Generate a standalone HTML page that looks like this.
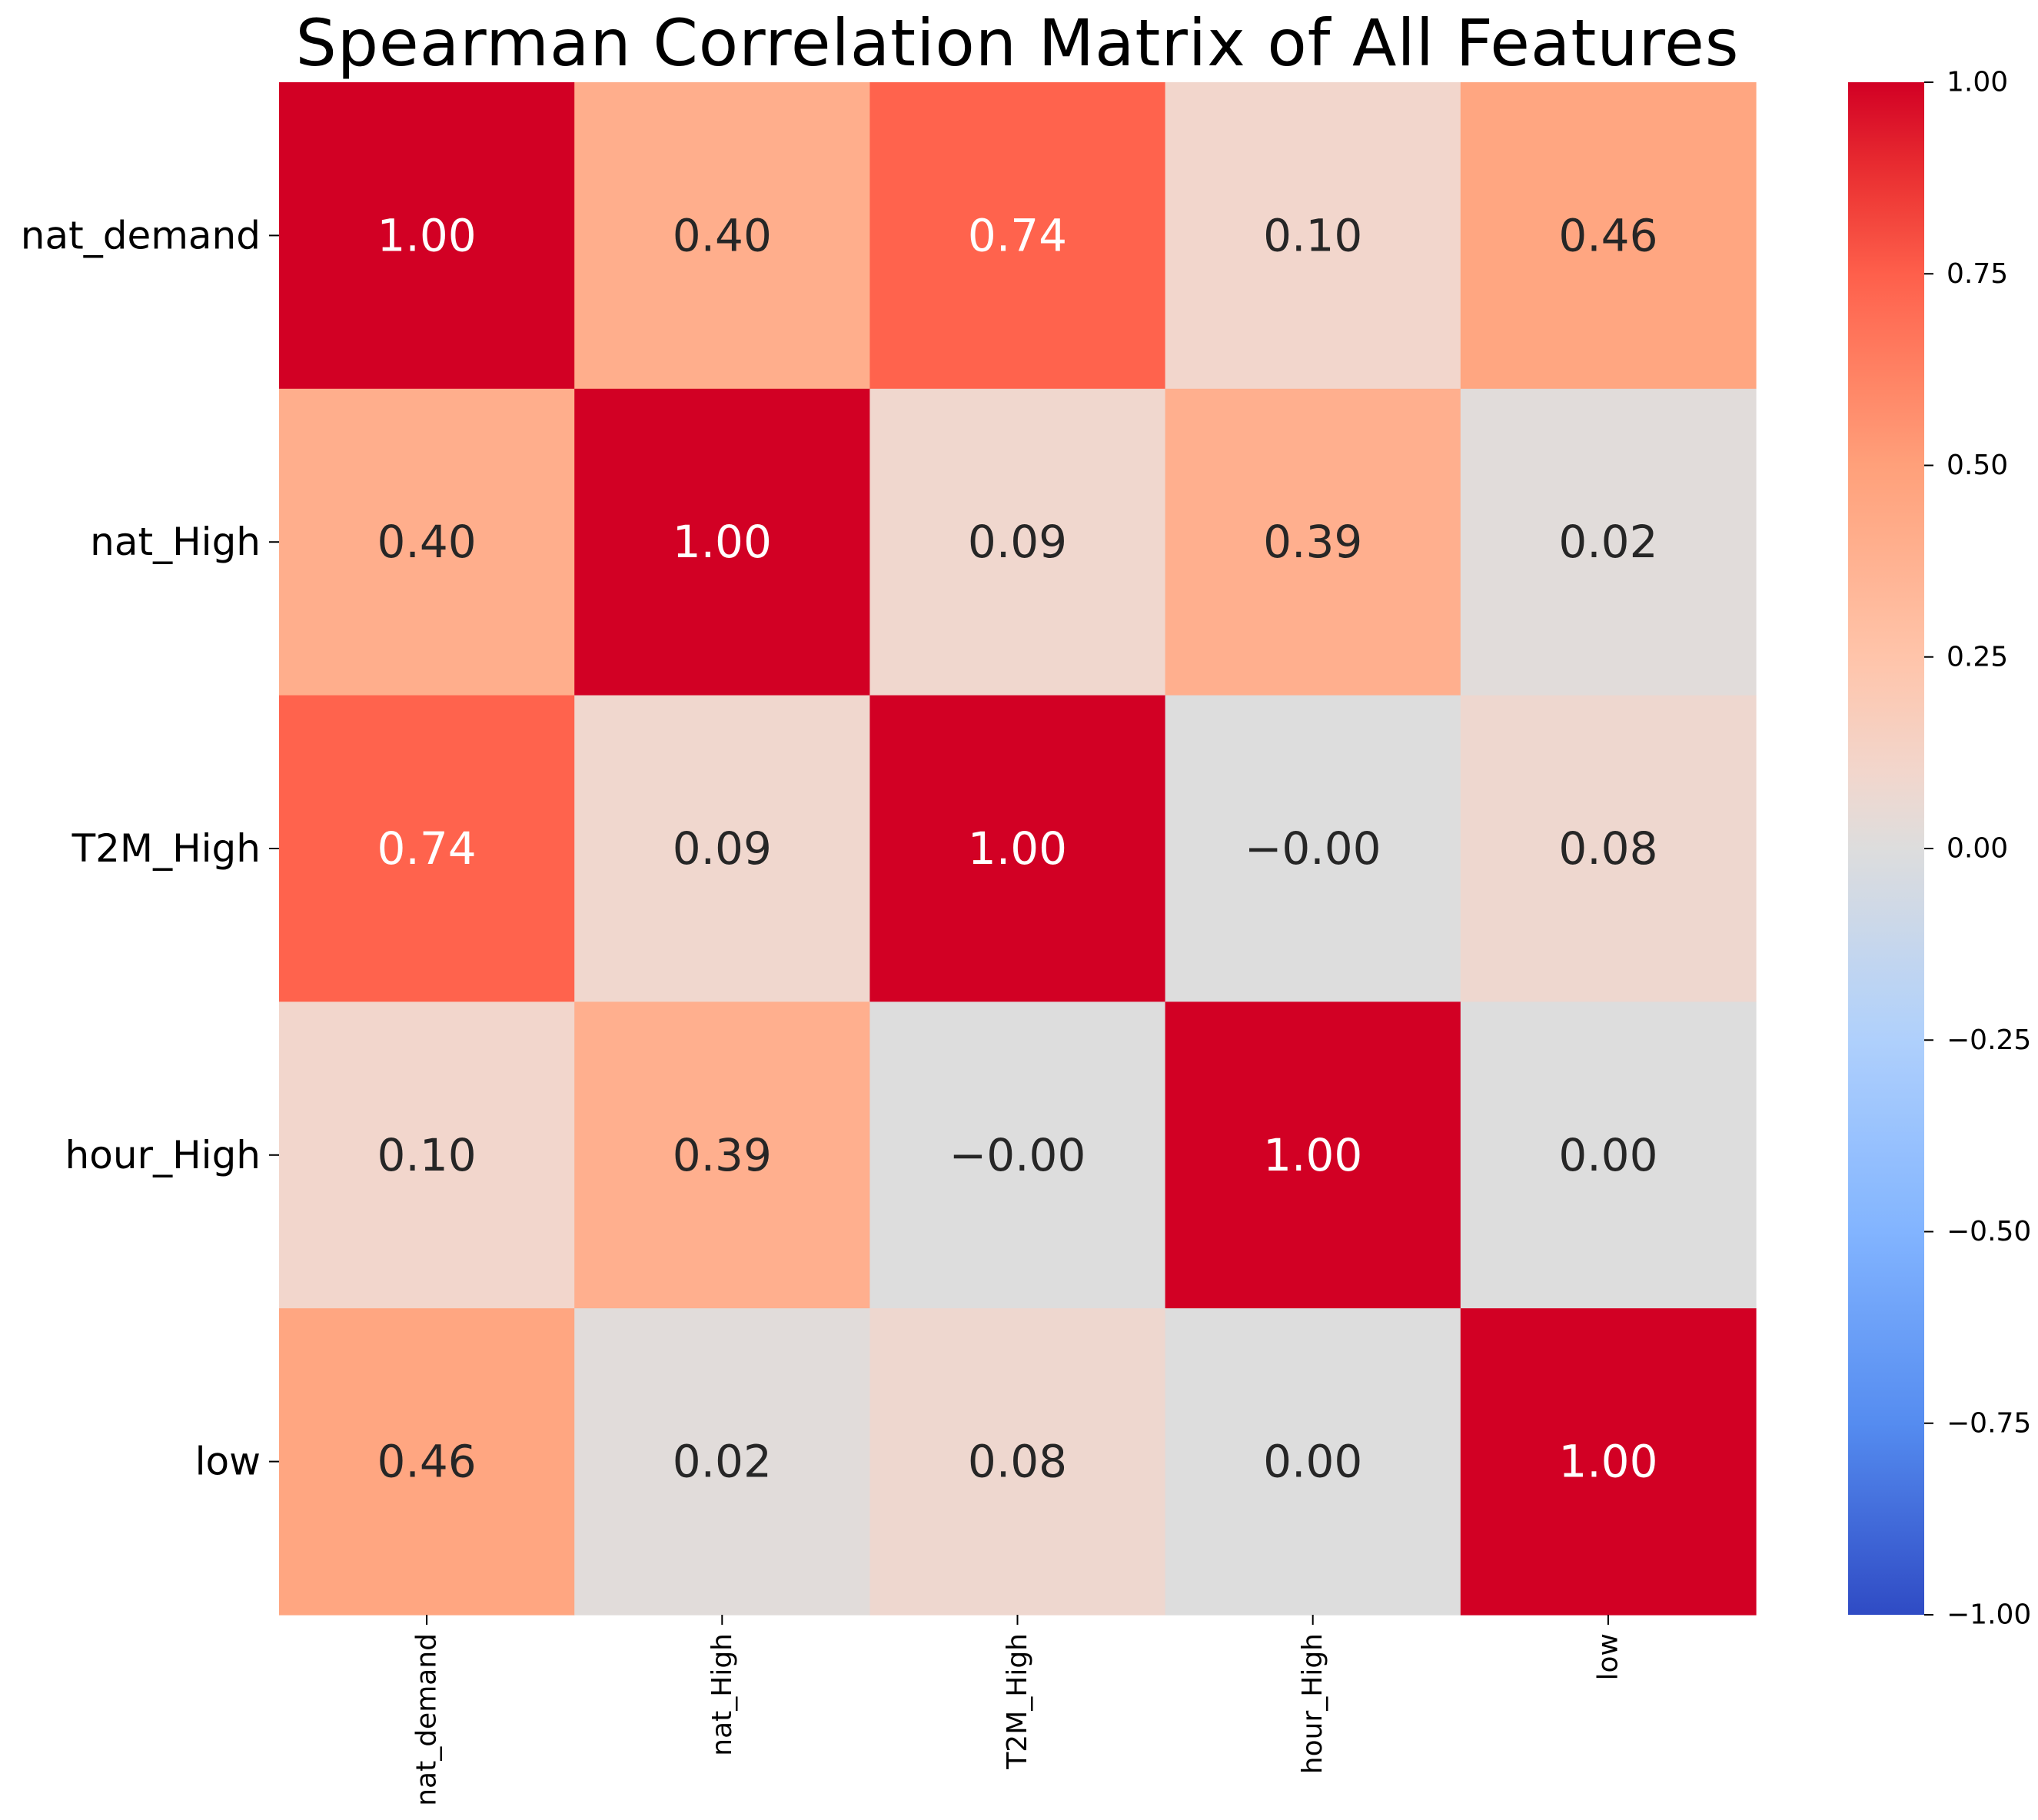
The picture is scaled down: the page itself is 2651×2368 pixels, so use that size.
<!DOCTYPE html>
<html><head><meta charset="utf-8"><style>
html,body{margin:0;padding:0;background:#fff}
svg{display:block;font-family:"DejaVu Sans","Liberation Sans",sans-serif}
</style></head><body>
<svg id="chart" width="2651" height="2368" viewBox="0 0 2651 2368" xmlns="http://www.w3.org/2000/svg">
<rect width="2651" height="2368" fill="#fff"/>
<text x="1323" y="85" font-size="84" text-anchor="middle" textLength="1877" fill="#000">Spearman Correlation Matrix of All Features</text>
<defs><linearGradient id="cbg" x1="0" y1="1" x2="0" y2="0"></linearGradient></defs>
<g id="cells"></g><g id="ylab"></g><g id="xlab"></g><g id="cbar"></g>
</svg>
<script>
const features = ["nat_demand","nat_High","T2M_High","hour_High","low"];
const row0 = [1.00, 0.40, 0.74, 0.10, 0.46];
const row1 = [0.40, 1.00, 0.09, 0.39, 0.02];
const row2 = [0.74, 0.09, 1.00, -0.001, 0.08];
const row3 = [0.10, 0.39, -0.001, 1.00, 0.00];
const row4 = [0.46, 0.02, 0.08, 0.00, 1.00];
const matrix = [row0,row1,row2,row3,row4];
const cbTicks = [1.00,0.75,0.50,0.25,0.00,-0.25,-0.50,-0.75,-1.00];

const NS="http://www.w3.org/2000/svg";
const L=363,R=2284,T=107,B=2101;
const n=features.length, cw=(R-L)/n, ch=(B-T)/n;
const stops=[[-1,[47,75,196]],[-0.75,[85,140,240]],[-0.5,[130,180,255]],[-0.25,[175,208,252]],[0,[221,221,221]],[0.1,[242,214,204]],[0.25,[255,196,170]],[0.4,[255,174,140]],[0.5,[255,160,122]],[0.74,[255,99,77]],[0.875,[235,50,50]],[1,[210,0,36]]];
function cmap(v){
  v=Math.max(-1,Math.min(1,v));
  for(let i=0;i<stops.length-1;i++){
    const [a,ca]=stops[i],[b,cb]=stops[i+1];
    if(v>=a&&v<=b){const t=(v-a)/(b-a);return "rgb("+ca.map((c,k)=>Math.round(c+(cb[k]-c)*t)).join(",")+")";}
  }
  return "rgb(210,0,36)";
}
function el(tag,attrs,parent){const e=document.createElementNS(NS,tag);for(const k in attrs)e.setAttribute(k,attrs[k]);parent.appendChild(e);return e;}
function fmt(v){const s=Math.abs(v).toFixed(2);return (v<0?"\u2212":"")+s;}
const cells=document.getElementById("cells");
matrix.forEach((row,i)=>row.forEach((v,j)=>{
  const r=el("rect",{x:L+j*cw,y:T+i*ch,width:cw+0.6,height:ch+0.6,fill:cmap(v)},cells);
  
  
  const t=el("text",{x:L+(j+0.5)*cw,y:T+(i+0.5)*ch,"font-size":"58","text-anchor":"middle","dominant-baseline":"central",fill:v>0.6?"#fff":"#262626"},cells);
  t.textContent=fmt(v);
  
  
}));
const yl=document.getElementById("ylab"), xl=document.getElementById("xlab");
features.forEach((f,i)=>{
  const y=T+(i+0.5)*ch;
  el("line",{x1:L-13,x2:L,y1:y,y2:y,stroke:"#000","stroke-width":"2"},yl);
  const t=el("text",{x:L-24,y:y,"font-size":"50","text-anchor":"end","dominant-baseline":"central",fill:"#000"},yl);
  t.textContent=f;
  
  
  const x=L+(i+0.5)*cw;
  el("line",{x1:x,x2:x,y1:B,y2:B+13,stroke:"#000","stroke-width":"2"},xl);
  const tx=el("text",{x:0,y:0,"font-size":"36","text-anchor":"end","dominant-baseline":"central",fill:"#000",transform:`translate(${x},${B+24}) rotate(-90)`},xl);
  tx.textContent=f;
  
  
});
const g=document.getElementById("cbg");
for(let k=0;k<=40;k++){const v=-1+k/20;el("stop",{offset:(k/40),"stop-color":cmap(v)},g);}
const cb=document.getElementById("cbar");
const CL=2404,CR=2503;
const cr=el("rect",{x:CL,y:T,width:CR-CL,height:B-T,fill:"url(#cbg)"},cb);


cbTicks.forEach(v=>{
  const y=T+(1-v)/2*(B-T);
  el("line",{x1:CR,x2:CR+12,y1:y,y2:y,stroke:"#000","stroke-width":"2"},cb);
  const t=el("text",{x:2532,y:y,"font-size":"36","dominant-baseline":"central",fill:"#000"},cb);
  t.textContent=fmt(v);
  
  
});
</script>
</body></html>
